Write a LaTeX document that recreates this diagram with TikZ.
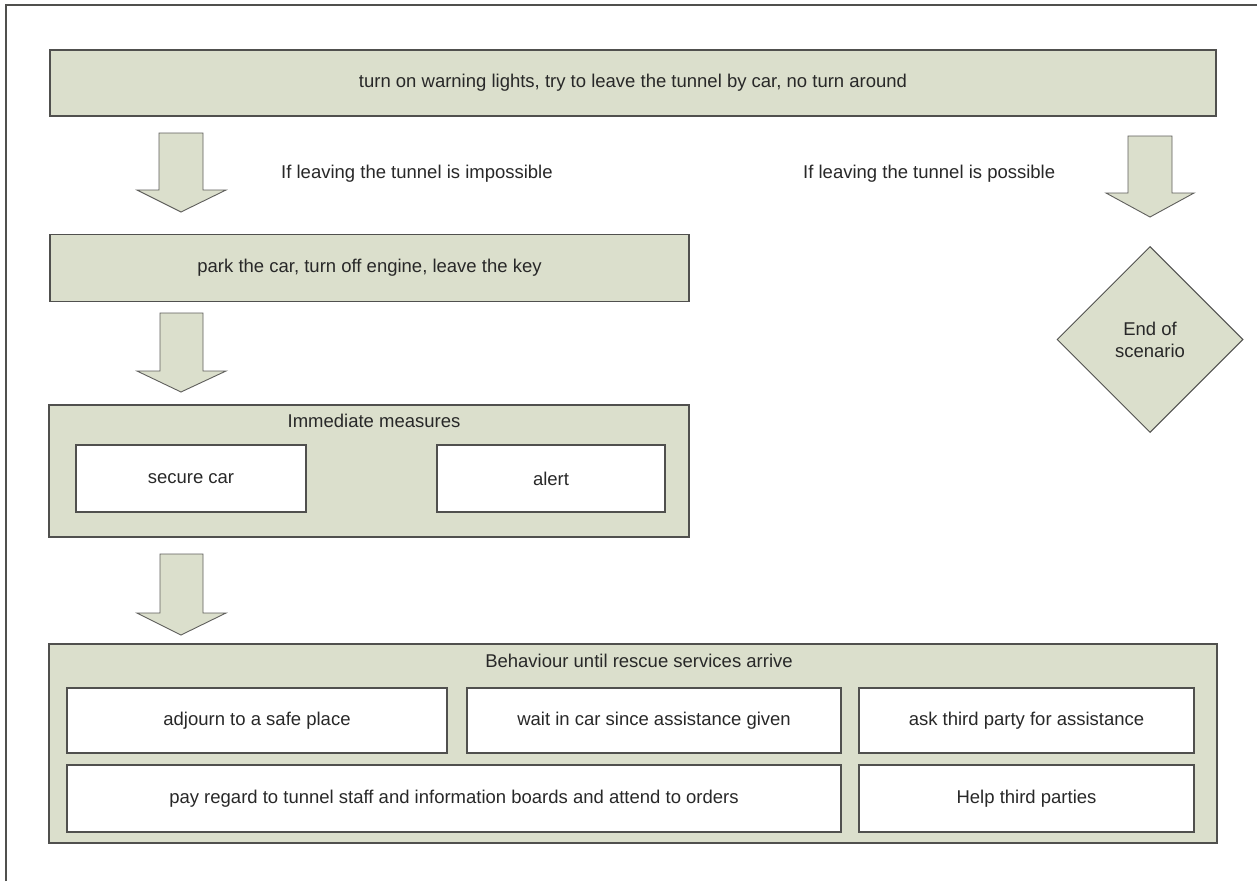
\documentclass[tikz,border=0pt]{standalone}
\usepackage{fontspec}
\setmainfont{Liberation Sans}
\usetikzlibrary{shapes.geometric}
\definecolor{boxfill}{RGB}{219,223,204}
\definecolor{boxline}{RGB}{80,80,78}
\definecolor{arrline}{RGB}{95,95,92}
\definecolor{txt}{RGB}{40,40,40}
\begin{document}
\begin{tikzpicture}[x=1pt,y=-1pt,
  every node/.style={font=\fontsize{18.5}{22}\selectfont, text=txt},
  greenbox/.style={draw=boxline, line width=1.4pt, fill=boxfill, rectangle, inner sep=0pt},
  whitebox/.style={draw=boxline, line width=1.4pt, fill=white, rectangle, inner sep=0pt},
  blockarrow/.style={draw=arrline, line width=0.9pt, fill=boxfill, line join=miter},
  plain/.style={inner sep=0pt}
]
\useasboundingbox (0,0) rectangle (1257,881);
\fill[white] (0,0) rectangle (1257,881);
% outer frame (only top and left edges visible)
\draw[boxline, line width=1.5pt] (6,881) -- (6,5) -- (1257,5);

% top box
\node[greenbox, minimum width=1166pt, minimum height=66pt] (top) at (633,83) {turn on warning lights, try to leave the tunnel by car, no turn around};

% arrows
\draw[blockarrow] (159,133) -- (203,133) -- (203,190) -- (226,190) -- (181,212) -- (137,190) -- (159,190) -- cycle;
\draw[blockarrow] (1128,136) -- (1172,136) -- (1172,193) -- (1194,193) -- (1150,217) -- (1106,193) -- (1128,193) -- cycle;

\node[plain, anchor=base west] (impossible) at (281,178) {If leaving the tunnel is impossible};
\node[plain, anchor=base west] (possible) at (803,178) {If leaving the tunnel is possible};

% park box
\node[greenbox, minimum width=639pt, minimum height=67pt] (park) at (369.5,268) {park the car, turn off engine, leave the key};

% end diamond
\node[diamond, draw=boxline, line width=1pt, fill=boxfill, aspect=1, minimum width=186pt, minimum height=186pt, inner sep=0pt, align=center] (end) at (1150,339.5) {End of\\scenario};

\draw[blockarrow] (160,313) -- (203,313) -- (203,371) -- (226,371) -- (181,392) -- (137,371) -- (160,371) -- cycle;

% immediate measures
\node[greenbox, minimum width=640pt, minimum height=132pt] (imm) at (369,471) {};
\node[plain] (immt) at (374,421) {Immediate measures};
\node[whitebox, minimum width=230pt, minimum height=67pt] (secure) at (191,478.5) {secure car};
\node[whitebox, minimum width=228pt, minimum height=67pt] (alert) at (551,478.5) {alert};

\draw[blockarrow] (160,554) -- (203,554) -- (203,613) -- (226,613) -- (181,635) -- (137,613) -- (160,613) -- cycle;

% behaviour
\node[greenbox, minimum width=1168pt, minimum height=199pt] (behav) at (633,743.5) {};
\node[plain] (behavt) at (639,661) {Behaviour until rescue services arrive};
\node[whitebox, minimum width=380pt, minimum height=65pt] (adjourn) at (257,720.5) {adjourn to a safe place};
\node[whitebox, minimum width=374pt, minimum height=65pt] (wait) at (654,720.5) {wait in car since assistance given};
\node[whitebox, minimum width=335pt, minimum height=65pt] (ask) at (1026.5,720.5) {ask third party for assistance};
\node[whitebox, minimum width=774pt, minimum height=67pt] (pay) at (454,798.5) {pay regard to tunnel staff and information boards and attend to orders};
\node[whitebox, minimum width=335pt, minimum height=67pt] (help) at (1026.5,798.5) {Help third parties};
\end{tikzpicture}
\end{document}
